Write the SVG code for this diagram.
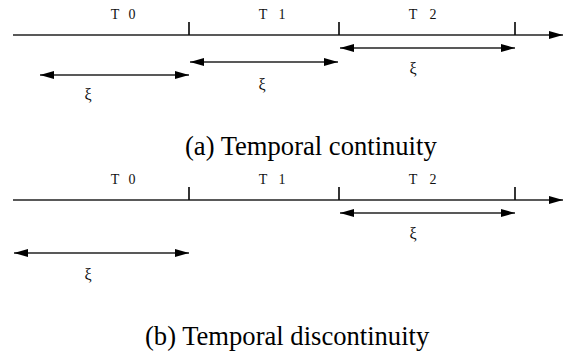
<svg xmlns="http://www.w3.org/2000/svg" width="576" height="356" viewBox="0 0 576 356">
<style>
.ln{stroke:#222;stroke-width:1.3;fill:none}
.tk{stroke:#111;stroke-width:1.7}
.lbl{font-family:"Liberation Serif","DejaVu Serif",serif;font-size:14px;fill:#111;text-anchor:middle}
.xi{font-family:"Liberation Serif","DejaVu Serif",serif;font-size:16px;fill:#111;text-anchor:middle}
.cap{font-family:"Liberation Serif","DejaVu Serif",serif;font-size:26.6px;fill:#000}
</style>
<defs>
<marker id="ah" viewBox="0 0 14 8" refX="14" refY="4" markerWidth="14" markerHeight="8" markerUnits="userSpaceOnUse" orient="auto-start-reverse">
<path d="M0,0 L14,4 L0,8 Z" fill="#000"/>
</marker>
</defs>
<g id="timeline-a">
<line class="ln" x1="13" y1="35" x2="563" y2="35" marker-end="url(#ah)"/>
<line class="tk" x1="189" y1="22" x2="189" y2="35"/>
<line class="tk" x1="339" y1="22" x2="339" y2="35"/>
<line class="tk" x1="515" y1="22" x2="515" y2="35"/>
<text class="lbl" y="19"><tspan x="115">T</tspan><tspan x="132">0</tspan></text>
<text class="lbl" y="19"><tspan x="263">T</tspan><tspan x="282">1</tspan></text>
<text class="lbl" y="19"><tspan x="413">T</tspan><tspan x="433">2</tspan></text>
</g>
<g id="connectors-a">
<line class="ln" x1="40" y1="75" x2="189" y2="75" marker-start="url(#ah)" marker-end="url(#ah)"/>
<line class="ln" x1="190" y1="62" x2="338" y2="62" marker-start="url(#ah)" marker-end="url(#ah)"/>
<line class="ln" x1="340" y1="48" x2="515" y2="48" marker-start="url(#ah)" marker-end="url(#ah)"/>
<text class="xi" x="88" y="100">ξ</text>
<text class="xi" x="262" y="90">ξ</text>
<text class="xi" x="413" y="74">ξ</text>
</g>
<text class="cap" x="185" y="155">(a) Temporal continuity</text>
<g id="timeline-b">
<line class="ln" x1="13" y1="200" x2="563" y2="200" marker-end="url(#ah)"/>
<line class="tk" x1="189" y1="187" x2="189" y2="200"/>
<line class="tk" x1="339" y1="187" x2="339" y2="200"/>
<line class="tk" x1="515" y1="187" x2="515" y2="200"/>
<text class="lbl" y="184"><tspan x="115">T</tspan><tspan x="132">0</tspan></text>
<text class="lbl" y="184"><tspan x="263">T</tspan><tspan x="282">1</tspan></text>
<text class="lbl" y="184"><tspan x="413">T</tspan><tspan x="433">2</tspan></text>
</g>
<g id="connectors-b">
<line class="ln" x1="14" y1="253" x2="189" y2="253" marker-start="url(#ah)" marker-end="url(#ah)"/>
<line class="ln" x1="340" y1="213" x2="515" y2="213" marker-start="url(#ah)" marker-end="url(#ah)"/>
<text class="xi" x="88" y="280">ξ</text>
<text class="xi" x="413" y="239">ξ</text>
</g>
<text class="cap" x="145" y="345">(b) Temporal discontinuity</text>
</svg>
